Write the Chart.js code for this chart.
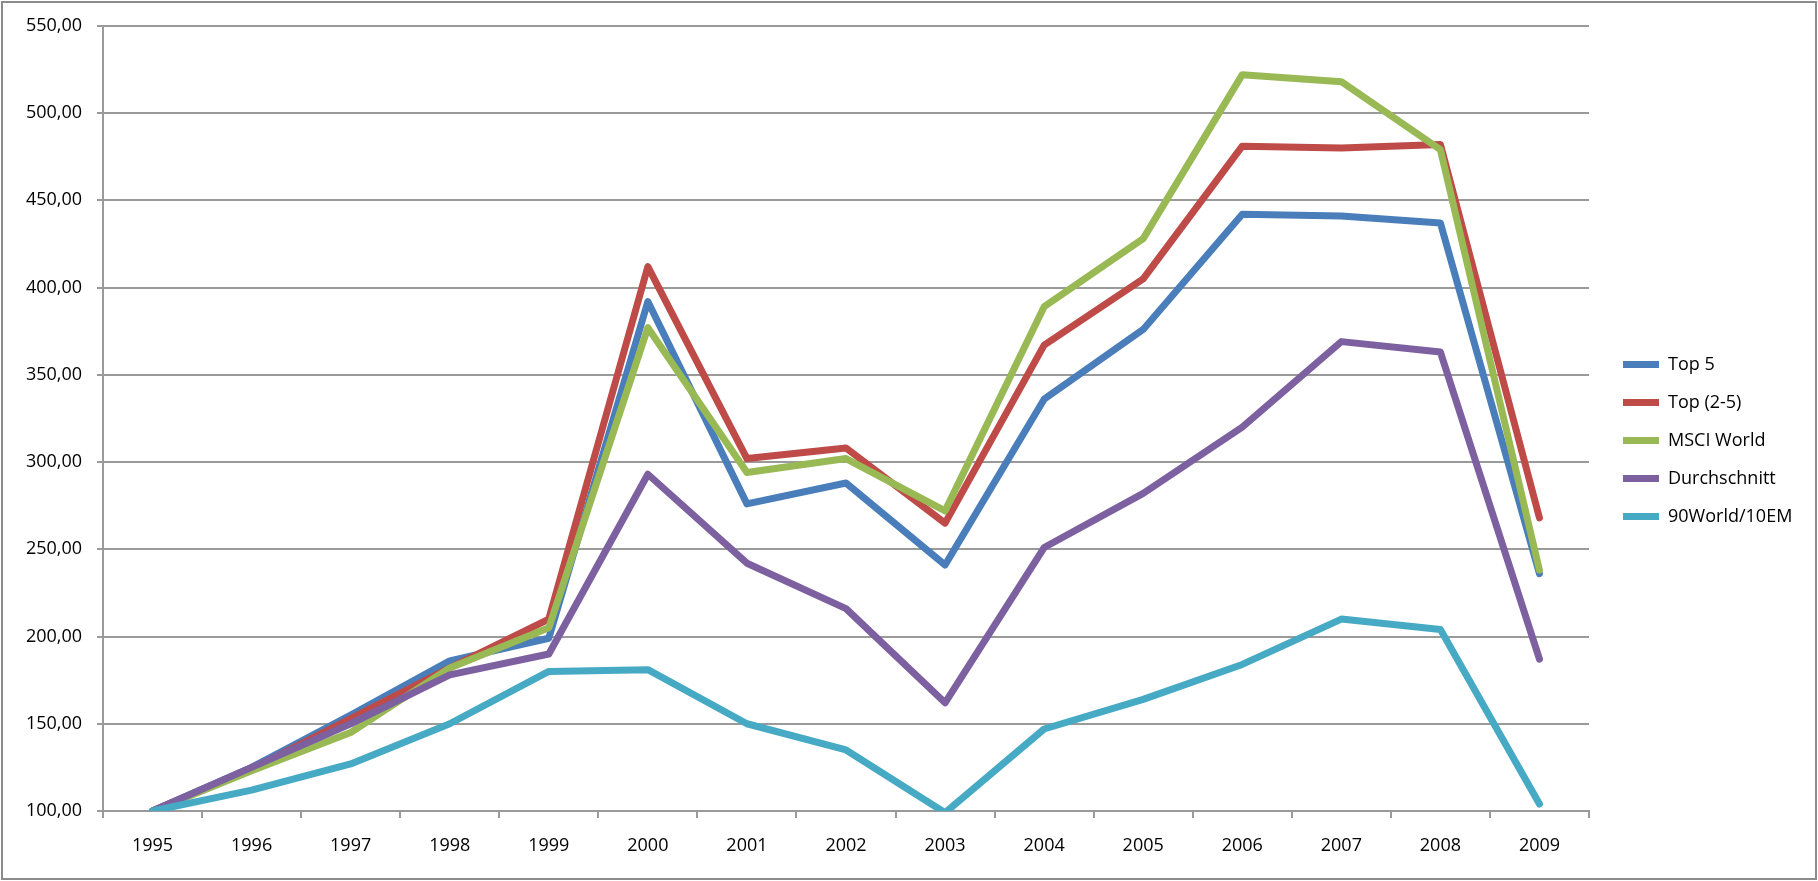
<!DOCTYPE html>
<html>
<head>
<meta charset="utf-8">
<script src="https://cdn.jsdelivr.net/npm/chart.js@4/dist/chart.umd.min.js"></script>
<style>
  html, body { margin: 0; padding: 0; background: #fff; }
</style>
</head>
<body>
<canvas id="chart" width="1818" height="881"></canvas>
<script>
'use strict';

// Werte
var years = ["1995", "1996", "1997", "1998", "1999", "2000", "2001", "2002", "2003", "2004", "2005", "2006", "2007", "2008", "2009"];
var top5 = [100, 125, 155, 186, 199, 392, 276, 288, 241, 336, 376, 442, 441, 437, 236];
var top25 = [100, 124, 153, 182, 210, 412, 302, 308, 265, 367, 405, 481, 480, 482, 268];
var msciWorld = [100, 123, 145, 182, 205, 377, 294, 302, 272, 389, 428, 522, 518, 479, 238];
var durchschnitt = [100, 125, 150, 178, 190, 293, 242, 216, 162, 251, 282, 320, 369, 363, 187];
var world90 = [100, 112, 127, 150, 180, 181, 150, 135, 99, 147, 164, 184, 210, 204, 104];
var yTicks = [100, 150, 200, 250, 300, 350, 400, 450, 500, 550];

var gridColor = '#9a9a9a';
var font = { family: 'Open Sans', size: 18 };

function serie(label, data, color, order) {
    return {
        label: label,
        data: data,
        borderColor: color,
        backgroundColor: color,
        borderWidth: 7,
        borderCapStyle: 'round',
        borderJoinStyle: 'round',
        pointRadius: 0,
        tension: 0,
        order: order
    };
}

// weisser Hintergrund + grauer Rahmen
var framePlugin = {
    id: 'frame',
    beforeDraw: function(chart) {
        var ctx = chart.ctx;
        ctx.save();
        ctx.fillStyle = '#fff';
        ctx.fillRect(0, 0, chart.width, chart.height);
        ctx.strokeStyle = '#8c8c8c';
        ctx.lineWidth = 2;
        ctx.strokeRect(2, 2, chart.width - 4, chart.height - 4);
        ctx.restore();
    }
};

// Legende etwas verschieben
var legendPlugin = {
    id: 'legendShift',
    beforeInit: function(chart) {
        var origFit = chart.legend.fit;
        chart.legend.fit = function() {
            origFit.bind(chart.legend)();
            this.width = 229;
        };
    },
    afterLayout: function(chart) {
        var l = chart.legend;
        l.left += 14; l.right += 14;
        l.top -= 12; l.bottom -= 12;
    }
};

var ctx = document.getElementById("chart").getContext('2d');
var chart = new Chart(ctx, {
    type: 'line',
    data: {
        labels: years,
        datasets: [
            serie("Top 5", top5, '#4a7ebb', 5),
            serie("Top (2-5)", top25, '#be4b48', 4),
            serie("MSCI World", msciWorld, '#98b954', 3),
            serie("Durchschnitt", durchschnitt, '#7d60a0', 2),
            serie("90World/10EM", world90, '#46aac5', 1)
        ]
    },
    options: {
        responsive: false,
        animation: false,
        devicePixelRatio: 1,
        layout: { padding: { top: 24, left: 0, right: 0, bottom: 0 } },
        plugins: {
            title: { display: false },
            tooltip: { enabled: false },
            legend: {
                position: 'right',
                align: 'center',
                labels: {
                    usePointStyle: true,
                    pointStyle: 'line',
                    pointStyleWidth: 36,
                    padding: 20,
                    color: '#000',
                    font: font,
                    sort: function(a, b) { return a.datasetIndex - b.datasetIndex; }
                }
            }
        },
        scales: {
            x: {
                offset: true,
                grid: {
                    offset: true,
                    drawOnChartArea: false,
                    color: gridColor,
                    lineWidth: 2,
                    tickLength: 7
                },
                border: { color: gridColor, width: 2 },
                ticks: { color: '#000', font: font, padding: 17, maxRotation: 0 },
                afterFit: function(scale) { scale.height = 70; }
            },
            y: {
                min: 100,
                max: 550,
                afterBuildTicks: function(scale) {
                    scale.ticks = yTicks.map(function(v) { return { value: v }; });
                },
                grid: { color: gridColor, lineWidth: 2, tickLength: 6 },
                border: { color: gridColor, width: 2 },
                ticks: {
                    color: '#000',
                    font: font,
                    padding: 15,
                    callback: function(value) {
                        return value.toFixed(2).replace('.', ',');
                    }
                },
                afterFit: function(scale) { scale.width = 103; }
            }
        }
    },
    plugins: [framePlugin, legendPlugin]
});
</script>
</body>
</html>
